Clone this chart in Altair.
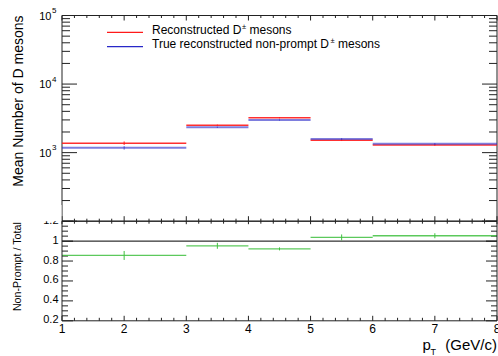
import altair as alt
import numpy as np
import pandas as pd

# ---------------------------------------------------------------- data
# pT bins (GeV/c)
bin_lo = [1, 3, 4, 5, 6]
bin_hi = [3, 4, 5, 6, 8]
bin_center = [2, 3.5, 4.5, 5.5, 7]

# mean number of reconstructed D+- mesons per bin
reco_counts = [1374, 2506, 3234, 1517, 1297]
reco_errors = [80, 55, 65, 40, 35]
# mean number of true reconstructed non-prompt D+- mesons per bin
nonprompt_counts = [1175, 2344, 2992, 1586, 1342]
nonprompt_errors = [70, 50, 60, 40, 35]

# non-prompt / total ratio
ratio_values = [0.856, 0.953, 0.922, 1.037, 1.054]
ratio_errors = [0.045, 0.03, 0.015, 0.03, 0.025]

# axis ticks and labels
x_major = [1, 2, 3, 4, 5, 6, 7, 8]
x_labels = ["1", "2", "3", "4", "5", "6", "7", "8"]
x_minor = [round(v, 2) for v in np.arange(1.2, 8.0, 0.2) if abs(v - round(v)) > 1e-6]
log_major = [1e2, 1e3, 1e4, 1e5]
log_label_exp = [3, 4, 5]
log_minor = [m * 10 ** e for e in (2, 3, 4) for m in range(2, 10)]
ratio_major = [0.2, 0.4, 0.6, 0.8, 1.0, 1.2]
ratio_labels = ["0.2", "0.4", "0.6", "0.8", "1", "1.2"]
ratio_minor = [round(v, 2) for v in np.arange(0.25, 1.2, 0.05)
               if min(abs(v - m) for m in ratio_major) > 1e-6]

# ---------------------------------------------------------------- layout
W, H = 498, 356
XL, XR = 62, 497           # frame left / right
YT, YM, YB = 15.5, 221.2, 320.8   # top of upper pad, pad border, bottom of ratio pad
FONT = "Liberation Sans"
FRAME = "#222222"
RED = "#ff1a1a"
BLUE = "#2828c8"
GREEN = "#40c040"

X_SCALE = alt.Scale(domain=[1, 8], range=[XL, XR], nice=False, zero=False)
TOP_Y = alt.Scale(type="log", domain=[1e2, 1e5], range=[YM, YT], nice=False)
RAT_Y = alt.Scale(domain=[0.2, 1.2], range=[YB, YM], nice=False, zero=False)

bins = pd.DataFrame({
    "lo": bin_lo, "hi": bin_hi, "center": bin_center,
    "reco": reco_counts,
    "reco_lo": np.array(reco_counts) - np.array(reco_errors),
    "reco_hi": np.array(reco_counts) + np.array(reco_errors),
    "np": nonprompt_counts,
    "np_lo": np.array(nonprompt_counts) - np.array(nonprompt_errors),
    "np_hi": np.array(nonprompt_counts) + np.array(nonprompt_errors),
    "ratio": ratio_values,
    "ratio_lo": np.array(ratio_values) - np.array(ratio_errors),
    "ratio_hi": np.array(ratio_values) + np.array(ratio_errors),
})


def X(field):
    return alt.X(field, type="quantitative", scale=X_SCALE, axis=None)


def Y(field, scale):
    return alt.Y(field, type="quantitative", scale=scale, axis=None)


def xticks(vals, y0, y1):
    return alt.Chart(pd.DataFrame({"v": vals})).mark_rule(
        stroke=FRAME, strokeWidth=1).encode(
        x=X("v"), y=alt.value(y0), y2=alt.value(y1))


def yticks(vals, scale, x0, x1):
    return alt.Chart(pd.DataFrame({"v": vals})).mark_rule(
        stroke=FRAME, strokeWidth=1).encode(
        y=Y("v", scale), x=alt.value(x0), x2=alt.value(x1))


def frame(y0, y1):
    return alt.Chart(pd.DataFrame({"a": [0]})).mark_rect(
        fillOpacity=0, stroke=FRAME, strokeWidth=1).encode(
        x=alt.value(XL), x2=alt.value(XR), y=alt.value(y0), y2=alt.value(y1))


def text_at(txt, x, y, size, align="left", baseline="alphabetic", angle=0):
    kw = dict(font=FONT, fontSize=size, align=align, baseline=baseline,
              color="black", text=txt)
    if angle:
        kw["angle"] = angle
    return alt.Chart(pd.DataFrame({"a": [0]})).mark_text(**kw).encode(
        x=alt.value(x), y=alt.value(y))


layers = []

# ---------------------------------------------------------------- upper pad
layers.append(frame(YT, YM))
layers += [
    yticks(log_major, TOP_Y, XL, XL + 15), yticks(log_minor, TOP_Y, XL, XL + 8),
    yticks(log_major, TOP_Y, XR - 15, XR), yticks(log_minor, TOP_Y, XR - 8, XR),
    xticks(x_major, YT, YT + 5), xticks(x_minor, YT, YT + 2.5),
    xticks(x_major, YM, YM - 5), xticks(x_minor, YM, YM - 2.5),
]
exp_df = pd.DataFrame({"v": [10.0 ** e for e in log_label_exp],
                       "e": [str(e) for e in log_label_exp]})
layers.append(alt.Chart(exp_df).mark_text(
    font=FONT, fontSize=11, align="right", baseline="middle", dy=1, text="10").encode(
    y=Y("v", TOP_Y), x=alt.value(51.5)))
layers.append(alt.Chart(exp_df).mark_text(
    font=FONT, fontSize=8, align="left", baseline="middle", dy=-4.5).encode(
    y=Y("v", TOP_Y), x=alt.value(52), text="e:N"))

base = alt.Chart(bins)
layers += [
    base.mark_rule(color=RED, strokeWidth=1.5, opacity=0.9).encode(
        x=X("lo"), x2="hi", y=Y("reco", TOP_Y)),
    base.mark_rule(color=RED, strokeWidth=1).encode(
        x=X("center"), y=Y("reco_lo", TOP_Y), y2="reco_hi"),
    base.mark_rule(color=BLUE, strokeWidth=2, opacity=0.6).encode(
        x=X("lo"), x2="hi", y=Y("np", TOP_Y)),
    base.mark_rule(color=BLUE, strokeWidth=1, opacity=0.7).encode(
        x=X("center"), y=Y("np_lo", TOP_Y), y2="np_hi"),
]

# legend
layers += [
    alt.Chart(pd.DataFrame({"a": [0]})).mark_rule(color=RED, strokeWidth=1.2).encode(
        x=alt.value(107), x2=alt.value(143), y=alt.value(32.3)),
    alt.Chart(pd.DataFrame({"a": [0]})).mark_rule(color=BLUE, strokeWidth=1.2).encode(
        x=alt.value(107), x2=alt.value(143), y=alt.value(46.7)),
    text_at("Reconstructed D", 152, 33.5, 12),
    text_at("\u00b1", 241.9, 28.5, 7.5),
    text_at("mesons", 249.5, 33.5, 12),
    text_at("True reconstructed non-prompt D", 152, 47.8, 12),
    text_at("\u00b1", 330.5, 42.8, 7.5),
    text_at("mesons", 338, 47.8, 12),
]

layers.append(text_at("Mean Number of D mesons", 22.5, YT, 14,
                      align="right", angle=270))

# ---------------------------------------------------------------- ratio pad
layers += [
    yticks(ratio_major, RAT_Y, XL, XL + 11), yticks(ratio_minor, RAT_Y, XL, XL + 6),
    yticks(ratio_major, RAT_Y, XR - 11, XR), yticks(ratio_minor, RAT_Y, XR - 6, XR),
    xticks(x_major, YM, YM + 3), xticks(x_minor, YM, YM + 2.5),
    xticks(x_major, YB, YB - 5), xticks(x_minor, YB, YB - 3),
]
rl_df = pd.DataFrame({"v": ratio_major, "t": ratio_labels})
layers.append(alt.Chart(rl_df).mark_text(
    font=FONT, fontSize=11, align="right", baseline="middle", dy=-0.5).encode(
    y=Y("v", RAT_Y), x=alt.value(58.5), text="t:N"))
# the upper pad hides the top half of the last ratio label
layers.append(alt.Chart(pd.DataFrame({"a": [0]})).mark_rect(color="white").encode(
    x=alt.value(28), x2=alt.value(XL - 0.5), y=alt.value(205), y2=alt.value(YM)))

layers += [
    alt.Chart(pd.DataFrame({"v": [1.0]})).mark_rule(color="black", strokeWidth=1).encode(
        y=Y("v", RAT_Y), x=alt.value(XL), x2=alt.value(XR)),
    base.mark_rule(color=GREEN, strokeWidth=1.3, opacity=0.85).encode(
        x=X("lo"), x2="hi", y=Y("ratio", RAT_Y)),
    base.mark_rule(color=GREEN, strokeWidth=1).encode(
        x=X("center"), y=Y("ratio_lo", RAT_Y), y2="ratio_hi"),
]
layers.append(frame(YM, YB))

xl_df = pd.DataFrame({"v": x_major, "t": x_labels})
layers.append(alt.Chart(xl_df).mark_text(
    font=FONT, fontSize=12, align="center", baseline="alphabetic").encode(
    x=X("v"), y=alt.value(332.5), text="t:N"))

layers.append(text_at("Non-Prompt / Total", 20.5, YM + 1, 10.7,
                      align="right", angle=270))
layers += [
    text_at("p", 422.5, 350, 15),
    text_at("T", 430.5, 355, 9),
    text_at("(GeV/c)", 497, 350, 15, align="right"),
]

chart = alt.layer(*layers).resolve_scale(y="independent").properties(
    width=W, height=H, padding=0, autosize="none", background="white"
).configure_view(stroke=None)

chart.save("out.html", embed_options={"renderer": "svg", "actions": False})
